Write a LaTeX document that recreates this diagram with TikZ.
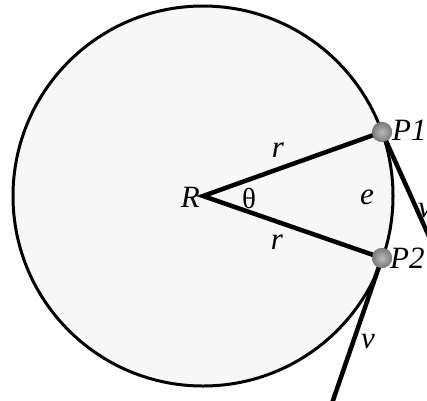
\documentclass[tikz,border=0pt]{standalone}
\usepackage{fontspec}
\setmainfont{Liberation Serif}
\begin{document}
\begin{tikzpicture}[x=1pt,y=-1pt,
  lbl/.style={font=\fontsize{31}{31}\selectfont\itshape, inner sep=0pt},
  glbl/.style={font=\fontsize{29}{29}\selectfont, inner sep=0pt},
  ball/.style={circle, minimum size=20pt, inner sep=0pt, shading=radial, inner color=gray!55, outer color=gray!95!black},
  spoke/.style={line width=4.5pt, line join=miter},
  rim/.style={line width=3pt, fill=gray!6}]
\useasboundingbox (0,0) rectangle (427,400);
\clip (0,0) rectangle (427,400);
\fill[white] (0,0) rectangle (427,400);
\coordinate (R) at (203,196);
\draw[rim] (R) circle[radius=190];
\coordinate (T1) at (441,263);
\coordinate (T2) at (329,412);
\node[ball] (P1) at (382,132) {};
\node[ball] (P2) at (382,258) {};
\draw[spoke] (P1.center) -- (R) -- (P2.center);
\draw[spoke] (P1.center) -- (T1);
\draw[spoke] (P2.center) -- (T2);
\node[ball] at (P1.center) {};
\node[ball] at (P2.center) {};
\node[lbl, anchor=east] (Rl) at (200,197) {R};
\node[glbl] (th) at (249,198) {θ};
\node[lbl] (e) at (367,197) {e};
\node[lbl] (r1) at (278,150) {r};
\node[lbl] (r2) at (277,242) {r};
\node[lbl, anchor=west] (P1l) at (392,130) {P1};
\node[lbl, anchor=west] (P2l) at (390,258) {P2};
\node[lbl, anchor=west] (v1) at (418,211) {v};
\node[lbl] (v2) at (368,342) {v};
\end{tikzpicture}
\end{document}
